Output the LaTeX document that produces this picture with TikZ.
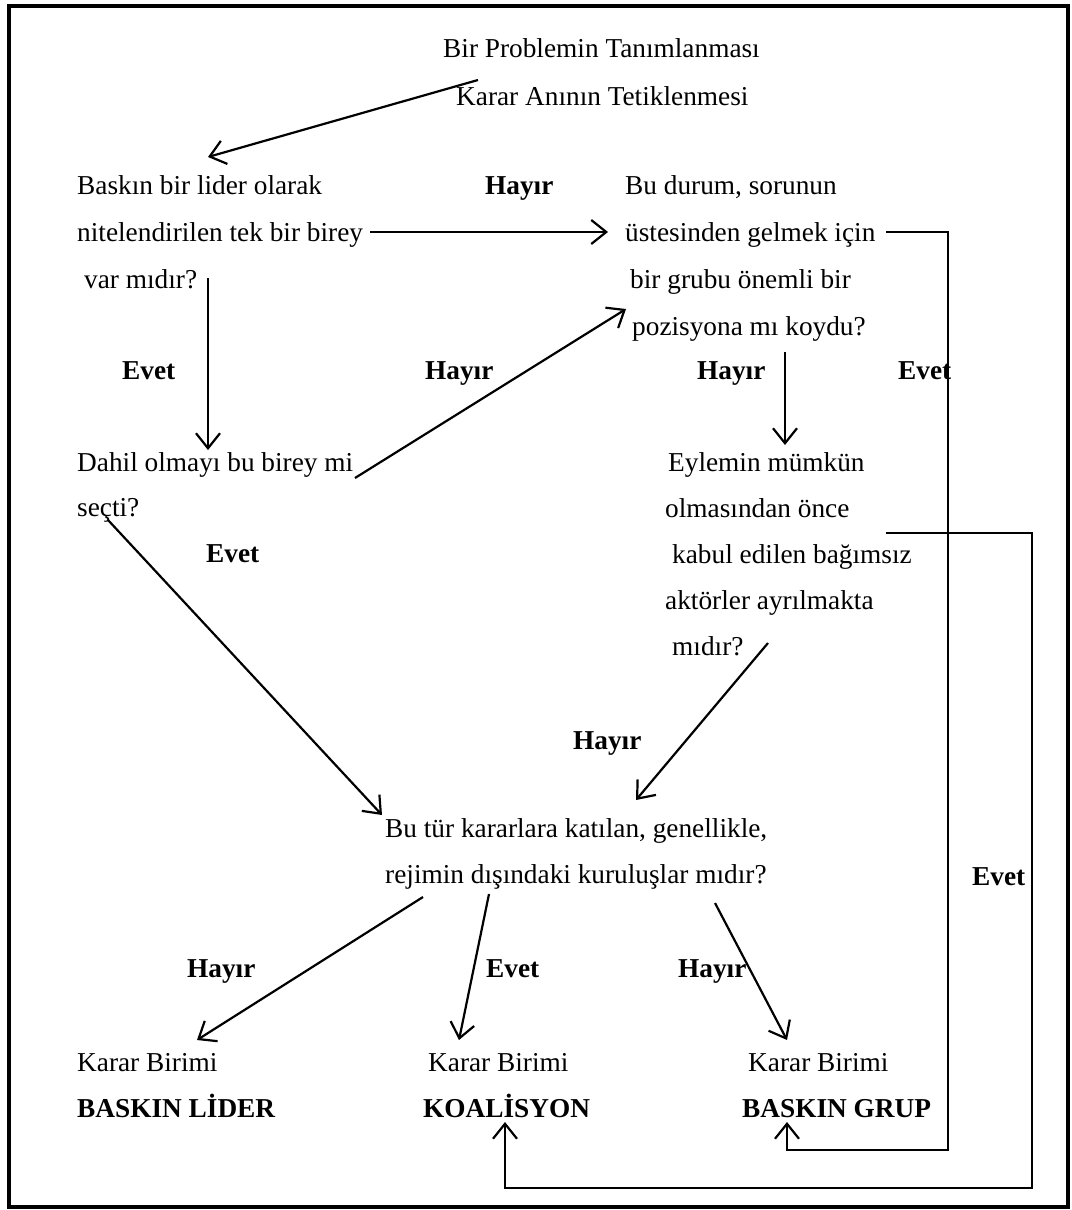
\documentclass[tikz,border=0pt]{standalone}
\usepackage{fontspec}
\setmainfont{Liberation Serif}
\usetikzlibrary{arrows.meta}
\begin{document}
\begin{tikzpicture}[x=1pt,y=-1pt,
  txt/.style={inner sep=0pt, anchor=base west, align=left, font=\fontsize{27.3}{47}\selectfont},
  lbl/.style={inner sep=0pt, anchor=base west, font=\fontsize{27.3}{32}\selectfont\bfseries},
  conn/.style={line width=2.2pt, -{Straight Barb[length=15pt,width=24pt,line width=2.2pt]}},
  plain/.style={line width=2.2pt}]
\useasboundingbox (0,0) rectangle (1071,1210);
\draw[line width=4pt] (8.5,5.5) rectangle (1068,1206.5);

% text blocks (anchored at the baseline of their last line)
\node[txt, font=\fontsize{27.3}{48}\selectfont] (top) at (443,105) {Bir Problemin Tanımlanması\\\hspace*{13pt}Karar Anının Tetiklenmesi};
\node[txt] (q1) at (77,288) {Baskın bir lider olarak\\nitelendirilen tek bir birey\\\hspace*{7pt}var mıdır?};
\node[txt] (q2) at (625,335) {Bu durum, sorunun\\üstesinden gelmek için\\\hspace*{5pt}bir grubu önemli bir\\\hspace*{7pt}pozisyona mı koydu?};
\node[txt, font=\fontsize{27.3}{45}\selectfont] (q3) at (77,516) {Dahil olmayı bu birey mi\\seçti?};
\node[txt, font=\fontsize{27.3}{46}\selectfont] (q4) at (665,655) {\hspace*{3pt}Eylemin mümkün\\olmasından önce\\\hspace*{7pt}kabul edilen bağımsız\\aktörler ayrılmakta\\\hspace*{7pt}mıdır?};
\node[txt, font=\fontsize{27.3}{46}\selectfont] (q5) at (385,883) {Bu tür kararlara katılan, genellikle,\\rejimin dışındaki kuruluşlar mıdır?};
\node[txt, font=\fontsize{27.3}{46}\selectfont] (r1) at (77,1117) {Karar Birimi\\\textbf{BASKIN LİDER}};
\node[txt, font=\fontsize{27.3}{46}\selectfont] (r2) at (423,1117) {\hspace*{5pt}Karar Birimi\\\textbf{KOALİSYON}};
\node[txt, font=\fontsize{27.3}{46}\selectfont] (r3) at (742,1117) {\hspace*{6pt}Karar Birimi\\\textbf{BASKIN GRUP}};

% labels
\node[lbl] (l1) at (485,194) {Hayır};
\node[lbl] (l2) at (122,379) {Evet};
\node[lbl] (l3) at (425,379) {Hayır};
\node[lbl] (l4) at (697,379) {Hayır};
\node[lbl] (l5) at (898,379) {Evet};
\node[lbl] (l6) at (206,562) {Evet};
\node[lbl] (l7) at (573,749) {Hayır};
\node[lbl] (l8) at (972,885) {Evet};
\node[lbl] (l9) at (187,977) {Hayır};
\node[lbl] (l10) at (486,977) {Evet};
\node[lbl] (l11) at (678,977) {Hayır};

% connector end points
\coordinate (topOut) at (478,80);
\coordinate (q1In) at (208,157);
\coordinate (q1R) at (370,232);
\coordinate (q2L) at (608,232);
\coordinate (q1B) at (208,278);
\coordinate (q3T) at (208,450);
\coordinate (q3R) at (355,478);
\coordinate (q2BL) at (626,309);
\coordinate (q2B) at (785,352);
\coordinate (q4T) at (785,445);
\coordinate (q3B) at (108,520);
\coordinate (q5TL) at (382,815);
\coordinate (q4B) at (768,643);
\coordinate (q5TR) at (636,800);
\coordinate (q5B1) at (423,897);
\coordinate (r1T) at (197,1040);
\coordinate (q5B2) at (489,894);
\coordinate (r2T) at (459,1040);
\coordinate (q5B3) at (715,903);
\coordinate (r3T) at (787,1040);
\coordinate (q2R) at (886,232);
\coordinate (r3B) at (787,1122);
\coordinate (q4R) at (886,533);
\coordinate (r2B) at (505,1122);

% connectors
\draw[conn] (topOut) -- (q1In);
\draw[conn] (q1R) -- (q2L);
\draw[conn] (q1B) -- (q3T);
\draw[conn] (q3R) -- (q2BL);
\draw[conn] (q2B) -- (q4T);
\draw[conn] (q3B) -- (q5TL);
\draw[conn] (q4B) -- (q5TR);
\draw[conn] (q5B1) -- (r1T);
\draw[conn] (q5B2) -- (r2T);
\draw[conn] (q5B3) -- (r3T);
\draw[conn] (q2R) -- (948,232) -- (948,1150) -- (787,1150) -- (r3B);
\draw[conn] (q4R) -- (1032,533) -- (1032,1188) -- (505,1188) -- (r2B);
\end{tikzpicture}
\end{document}
